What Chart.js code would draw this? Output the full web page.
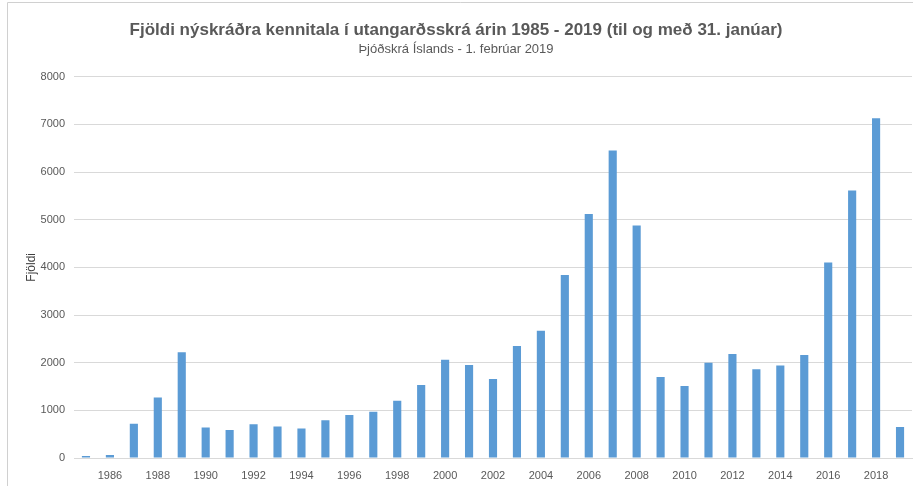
<!DOCTYPE html>
<html>
<head>
<meta charset="utf-8">
<script src="https://cdn.jsdelivr.net/npm/chart.js@4/dist/chart.umd.min.js"></script>
<style>
  html, body { margin: 0; padding: 0; background: #ffffff; }
  #wrap { width: 913px; height: 486px; position: relative; }
</style>
</head>
<body>
<div id="wrap"><canvas id="c" width="913" height="486"></canvas></div>
<script>
const years = ['1985','1986','1987','1988','1989','1990','1991','1992','1993','1994',
  '1995','1996','1997','1998','1999','2000','2001','2002','2003','2004',
  '2005','2006','2007','2008','2009','2010','2011','2012','2013','2014',
  '2015','2016','2017','2018','2019'];
const counts = [40, 65, 720, 1270, 2220, 640, 590, 710, 660, 620,
  790, 900, 970, 1200, 1530, 2060, 1950, 1660, 2350, 2670,
  3840, 5120, 6450, 4880, 1700, 1510, 2000, 2180, 1860, 1940,
  2160, 4100, 5610, 7130, 650];
const yTicks = [0, 1000, 2000, 3000, 4000, 5000, 6000, 7000, 8000];
const titleText = 'Fjöldi nýskráðra kennitala í utangarðsskrá árin 1985 - 2019 (til og með 31. janúar)';
const subtitleText = 'Þjóðskrá Íslands - 1. febrúar 2019';
const yTitle = 'Fjöldi';

const FONT = '"Liberation Sans", Arial, sans-serif';
const GREY = '#595959';
const GRID = '#d9d9d9';

const framePlugin = {
  id: 'frame',
  beforeDraw(chart) {
    const ctx = chart.ctx;
    ctx.save();
    ctx.strokeStyle = '#d0d0d0';
    ctx.lineWidth = 1;
    ctx.beginPath();
    ctx.moveTo(7.5, 486);
    ctx.lineTo(7.5, 2.5);
    ctx.lineTo(913, 2.5);
    ctx.stroke();
    ctx.restore();
  }
};

new Chart(document.getElementById('c'), {
  type: 'bar',
  data: {
    labels: years,
    datasets: [{
      data: counts,
      backgroundColor: '#5B9BD5',
      borderWidth: 0,
      categoryPercentage: 1.0,
      barPercentage: 0.34
    }]
  },
  options: {
    responsive: false,
    animation: false,
    devicePixelRatio: 1,
    layout: { padding: { left: 0, right: 1, top: 0, bottom: 0 } },
    plugins: {
      legend: { display: false },
      tooltip: { enabled: false },
      title: {
        display: true,
        text: titleText,
        color: GREY,
        font: { family: FONT, size: 17, weight: 'bold', lineHeight: 1.2 },
        padding: { top: 20, bottom: 0 }
      },
      subtitle: {
        display: true,
        text: subtitleText,
        color: GREY,
        font: { family: FONT, size: 13, weight: 'normal', lineHeight: 1.1 },
        padding: { top: 2, bottom: 20 }
      }
    },
    scales: {
      x: {
        afterFit: function(scale) { scale.height = 28; },
        grid: { display: false, drawTicks: false },
        border: { display: true, color: GRID, width: 1 },
        ticks: {
          color: GREY,
          font: { family: FONT, size: 11 },
          padding: 11,
          autoSkip: false,
          maxRotation: 0,
          minRotation: 0,
          callback: function(value, index) {
            const y = years[index];
            return (parseInt(y, 10) % 2 === 0) ? y : '';
          }
        }
      },
      y: {
        min: 0,
        max: 8000,
        afterBuildTicks: function(scale) {
          scale.ticks = yTicks.map(v => ({ value: v }));
        },
        afterFit: function(scale) { scale.width = 74; },
        grid: { color: GRID, lineWidth: 1, drawTicks: false },
        border: { display: false },
        ticks: {
          color: GREY,
          font: { family: FONT, size: 11 },
          padding: 9,
          callback: function(value) { return String(value); }
        },
        title: {
          display: true,
          text: yTitle,
          color: '#404040',
          font: { family: FONT, size: 12 },
          padding: { top: 24, bottom: 0 }
        }
      }
    }
  },
  plugins: [framePlugin]
});
</script>
</body>
</html>
